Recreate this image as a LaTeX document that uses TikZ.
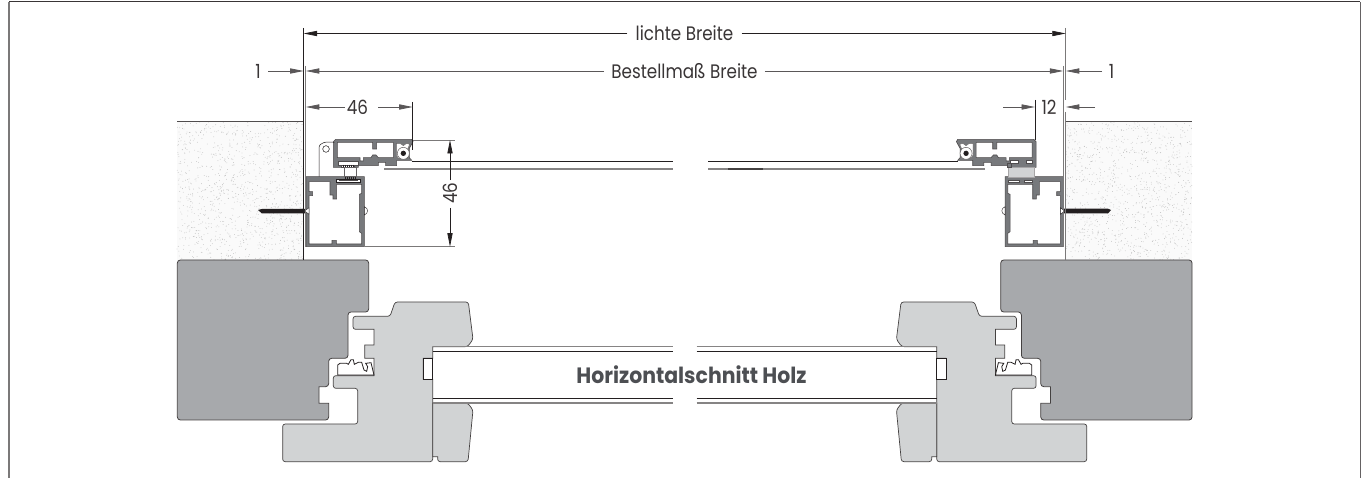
\documentclass[tikz,border=0pt]{standalone}
\usepackage{fontspec}
\setmainfont{Poppins}[FakeStretch=.86]
\newfontfamily\titlefont{Poppins}[UprightFont=* Bold,FakeStretch=.92]
\usetikzlibrary{arrows.meta}
\definecolor{ink}{HTML}{231F20}
\definecolor{woodgray}{HTML}{A7A9AC}
\definecolor{sashgray}{HTML}{D1D3D4}
\definecolor{alugray}{HTML}{77797C}
\definecolor{txtgray}{HTML}{4D4F53}
\tikzset{
  dim/.style={draw=ink,line width=.7pt},
  dimgray/.style={draw=ink!75,line width=.8pt},
  endtip/.style={-{Triangle[length=13.5pt,width=5.2pt]}},
  ext/.style={draw=ink,line width=.8pt},
  extgray/.style={draw=ink!60,line width=1.1pt},
  lab/.style={font=\fontsize{19.5}{20}\selectfont,text=ink!90,inner sep=0pt,fill=white},
  woodshape/.style={fill=woodgray,draw=ink!85,line width=.8pt},
  sashshape/.style={fill=sashgray,draw=ink!85,line width=.7pt},
  alu/.style={fill=alugray,draw=ink!80,line width=.6pt,even odd rule},
  thin line/.style={draw=ink,line width=.5pt},
  glassdark/.style={draw=ink,line width=.8pt},
  glasslight/.style={draw=ink!55,line width=1.2pt},
}
\newcommand{\woodsash}{%
  \path[woodshape,rounded corners=3pt] (100,30) -- (596,30) -- (596,186) -- (534,186) -- (534,325) -- (476,325) -- (476,410)
     [sharp corners] -- (447,410) -- (447,460) -- (476,460)
     [rounded corners=3pt] -- (476,510) -- (22,510) -- (22,30) -- cycle;
  \path[sashshape,rounded corners=2.5pt] (788,290) -- (893,290) -- (909,268) -- (895,156) -- (675,156) -- (660,199) -- (549,199) -- (549,238)
     [sharp corners] -- (612,238) -- (612,285) -- (584,285) -- (584,325) -- (612,325) -- (612,377)
     [rounded corners=2.5pt] -- (490,377) -- (490,415) -- (563,415) -- (563,522) -- (338,522) -- (338,635) -- (788,635)
     [sharp corners] -- (788,388) -- (760,388) -- (760,325) -- (788,325) -- cycle;
  \path[sashshape,rounded corners=2.5pt] (788,459) -- (893,459) -- (909,480) -- (894,635) -- (803,635)
     [sharp corners] -- (803,620) -- (790,620) -- (788,620) -- cycle;
  \path[fill=white,draw=ink,line width=.6pt] (760,325) -- (788,325) -- (788,388) -- (760,388) -- cycle;
  \path[fill=white,draw=ink,line width=.8pt] (503,375) -- (503,345) -- (510,340) -- (530,340) -- (535,343) -- (543,329) -- (550,329)
     -- (553,343) -- (565,337) -- (575,337) -- (582,360) -- (590,364) -- (593,350) -- (587,340) -- (603,338) -- (612,375) -- cycle;
}
\newcommand{\aluprofile}{%
  \path[alu] (33,155) -- (208,155) -- (208,365) -- (33,365) -- cycle
     (42,170) -- (105,170) -- (105,210) -- (114,210) -- (114,222) -- (125,222) -- (125,178) -- (200,178) -- (200,205) -- (193,208)
     -- (193,320) -- (200,325) -- (200,357) -- (124,357) -- (124,346) -- (111,346) -- (111,357) -- (42,357) -- (42,212) -- (53,212)
     -- (53,200) -- (42,200) -- cycle;
  \path[fill=white,draw=ink,line width=.4pt] (208,245) .. controls (221,250) and (221,265) .. (208,270) -- cycle;
  \path[fill=white,draw=ink,line width=.4pt] (42,248) -- (29,258) -- (42,268) -- cycle;
  \path[alu] (115,50) -- (122,43) -- (350,43) -- (354,50) -- (343,70) -- (343,98) -- (350,106) -- (305,106) -- (305,122) -- (272,122)
     -- (272,112) -- (250,112) -- (250,122) -- (190,122) -- (190,127) -- (115,127) -- cycle
     (127,52) -- (233,52) -- (233,72) -- (245,72) -- (245,52) -- (295,52) -- (295,98) -- (250,98) -- (243,90) -- (233,90) -- (228,98)
     -- (205,98) -- (205,108) -- (195,108) -- (195,98) -- (127,98) -- cycle;
  \path[fill=white,draw=ink!70,line width=.4pt] (304,55) -- (315,55) -- (325,62) -- (335,55) -- (344,58) -- (338,72) -- (338,100) -- (310,100) -- (304,90) -- cycle;
  \path[fill=white,draw=ink!70,line width=.5pt] (325,85) circle[radius=18];
  \path[fill=ink] (325,85) circle[radius=8];
}
\begin{document}
\begin{tikzpicture}[x=1pt,y=-1pt]
\useasboundingbox (0,0) rectangle (1365,478);
\fill[white] (0,0) rectangle (1365,478);
\coordinate (fTL) at (9,2); \coordinate (fTR) at (1360,2);
\coordinate (fBL) at (9,478); \coordinate (fBR) at (1360,478);
\draw[draw=ink!60,line width=1.2pt] (fBL) -- (fTL);
\draw[draw=ink!90,line width=1pt] (fTL) -- (fTR);
\draw[draw=ink!70,line width=1pt] (fTR) -- (fBR);
\fill[black!2] (177,122) rectangle (303.5,260);
\fill[black!2] (1066,122) rectangle (1192,260);
\pgfmathsetseed{4711}
\foreach \i in {1,...,1100}{%
  \pgfmathsetmacro\ax{177+126*rnd}\pgfmathsetmacro\ay{122+138*rnd}%
  \pgfmathsetmacro\bx{1066+126*rnd}\pgfmathsetmacro\by{122+138*rnd}%
  \fill[black!25] (\ax,\ay) circle[radius=.42];
  \fill[black!25] (\bx,\by) circle[radius=.42];
}
\coordinate (wl1) at (177,121.7); \coordinate (wl2) at (303.5,121.7);
\coordinate (wr1) at (1066,121.7); \coordinate (wr2) at (1192,121.7);
\draw[draw=ink!80,line width=.8pt] (wl1) -- (wl2);
\draw[draw=ink!80,line width=.8pt] (wr1) -- (wr2);
\begin{scope}[shift={(170,250)},x=.33333pt,y=-.33333pt]\woodsash\end{scope}
\begin{scope}[shift={(1199.4,250)},x=-.33333pt,y=-.33333pt]\woodsash\end{scope}
\foreach \xa/\xb in {432.7/672.7,696.7/936.7}{
  \draw[glasslight] (\xa,346.7) -- (\xb,346.7);
  \draw[glassdark] (\xa,351.3) -- (\xb,351.3);
  \draw[glassdark] (\xa,398.3) -- (\xb,398.3);
  \draw[glasslight] (\xa,403) -- (\xb,403);
}
\node[font=\titlefont\fontsize{22.2}{23}\selectfont,text=txtgray,inner sep=0pt] (title) at (691.5,375) {Horizontalschnitt Holz};
\draw[glassdark] (411.7,161.3) -- (672.7,161.3);
\draw[glassdark] (708,161.3) -- (957.7,161.3);
\draw[glasslight] (384,169) -- (672.7,169);
\draw[glasslight] (708,169) -- (985,169);
\draw[draw=ink!85,line width=1.3pt] (728,169) -- (763,169);
\fill[ink] (258,210) -- (262,209) -- (306,209) -- (306,213.5) -- (262,213.5) -- cycle;
\fill[ink] (1111,210) -- (1108,208.7) -- (1063,208.7) -- (1063,213.5) -- (1108,213.5) -- cycle;
\begin{scope}[shift={(295,125)},x=.33333pt,y=-.33333pt]
  \aluprofile
  \draw[thin line] (72,155) -- (72,70) .. controls (72,50) and (95,50) .. (118,52);
  \draw[thin line,fill=white] (93,72) circle[radius=10];
  % gaskets between the two profiles
  \path[fill=white,draw=ink!80,line width=.4pt] (130,110) rectangle (190,120);
  \path[fill=white,draw=ink!80,line width=.4pt] (140,120) rectangle (178,127);
  \foreach \t in {144,150,...,174}{\draw[ink,line width=.5pt] (\t,120) -- (\t,127);}
  \path[fill=white,draw=ink!70,line width=.4pt] (147,127) rectangle (185,155);
  \path[fill=white,draw=ink,line width=.4pt] (125,162) rectangle (195,172);
  \path[fill=ink!80] (132,165) rectangle (188,169);
  \foreach \t in {150,156,...,180}{\draw[ink,line width=.5pt] (\t,155) -- (\t,165);}
\end{scope}
\begin{scope}[shift={(1074.4,125)},x=-.33333pt,y=-.33333pt]
  \aluprofile
\end{scope}
\begin{scope}[shift={(945,125)},x=.33333pt,y=-.33333pt]
  % connector block with the slots of both profiles
  \path[fill=sashgray,draw=ink!40,line width=.3pt] (190,127) rectangle (266,155);
  \path[fill=alugray,draw=ink!80,line width=.4pt] (188,114) rectangle (198,127);
  \path[fill=white,draw=ink!80,line width=.4pt] (195,106) rectangle (220,114);
  \path[fill=white,draw=ink!80,line width=.4pt] (245,106) rectangle (262,114);
  \path[fill=white,draw=ink!80,line width=.4pt] (190,165) rectangle (222,172);
  \path[fill=white,draw=ink!80,line width=.4pt] (238,165) rectangle (262,172);
\end{scope}
\coordinate (eL1) at (303.6,28); \coordinate (eL2) at (303.6,260);
\coordinate (iL1) at (305.8,66); \coordinate (iL2) at (305.8,247);
\coordinate (eR1) at (1065.8,28); \coordinate (eR2) at (1065.8,100);
\coordinate (eR3) at (1065.8,112); \coordinate (eR4) at (1065.8,260);
\coordinate (iR1) at (1063.3,66); \coordinate (iR2) at (1063.3,247);
\draw[ext] (eL1) -- (eL2);
\draw[extgray] (iL1) -- (iL2);
\draw[extgray] (eR1) -- (eR2);
\draw[extgray] (eR3) -- (eR4);
\draw[extgray] (iR1) -- (iR2);
\node[lab] (lichte) at (684.5,33.5) {lichte Breite};
\draw[dim,endtip] (lichte.west) ++(-8,0) -- (eL1 |- lichte);
\draw[dim,endtip] (lichte.east) ++(8,0) -- (eR1 |- lichte);
\node[lab] (best) at (684.5,71) {Bestellmaß Breite};
\draw[dimgray,endtip] (best.west) ++(-7,0) -- (iL1 |- best);
\draw[dimgray,endtip] (best.east) ++(7,0) -- (iR1 |- best);
\node[lab] (oneL) at (258,71) {1};
\coordinate (oneLs) at (268,71);
\draw[dimgray,endtip] (oneLs) -- (eL1 |- oneLs);
\node[lab] (oneR) at (1111.5,71) {1};
\coordinate (oneRs) at (1102,71);
\draw[dimgray,endtip] (oneRs) -- (eR1 |- oneRs);
\coordinate (h46) at (412.7,102); \coordinate (h46b) at (412.7,150);
\draw[ext,line width=.6pt] (h46) -- (h46b);
\node[lab] (n46) at (357.5,107) {46};
\draw[dimgray,endtip] (n46.west) ++(-2,0) -- (iL1 |- n46);
\draw[dimgray,endtip] (n46.east) ++(10,0) -- (h46 |- n46);
\coordinate (vTa) at (413,140); \coordinate (vTb) at (455,140);
\coordinate (vBa) at (365,246.7); \coordinate (vBb) at (455,246.7);
\draw[draw=ink!60,line width=.7pt] (vTa) -- (vTb);
\draw[draw=ink!60,line width=.7pt] (vBa) -- (vBb);
\node[lab,rotate=90] (v46) at (450,193) {46};
\draw[dim,endtip] (v46.east) ++(0,-2) -- (450,140);
\draw[dim,endtip] (v46.west) ++(0,4) -- (450,246.7);
\coordinate (x12a) at (1035,100); \coordinate (x12b) at (1035,140);
\draw[ext,line width=.6pt] (x12a) -- (x12b);
\node[lab,fill=none] (n12) at (1049,107) {12};
\coordinate (a12l) at (1003,107); \coordinate (a12r) at (1095,107);
\draw[dimgray,endtip] (a12l) -- (x12a |- a12l);
\draw[dimgray,endtip] (a12r) -- (eR1 |- a12r);
\end{tikzpicture}
\end{document}
